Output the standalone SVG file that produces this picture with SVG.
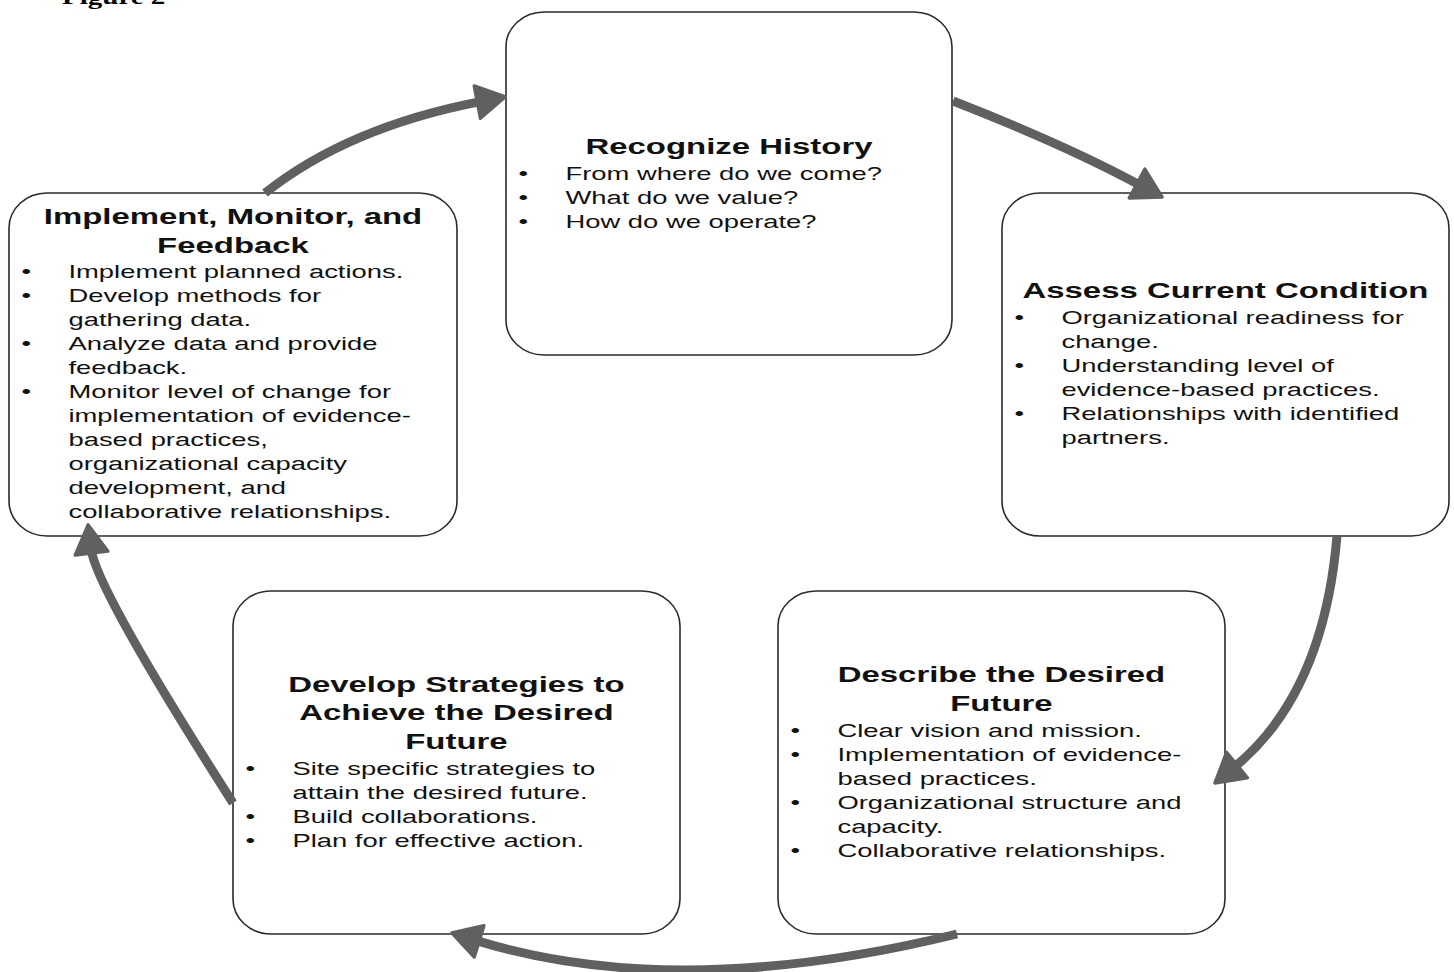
<svg xmlns="http://www.w3.org/2000/svg" width="1454" height="972" viewBox="0 0 1454 972">
<defs>
<style>
.box{fill:#fff;stroke:#2a2a2a;stroke-width:1.6}
.ttl{font-family:"Liberation Sans",Arial,sans-serif;font-weight:bold;font-size:22.7px;fill:#111;text-anchor:middle}
.bd{font-family:"Liberation Sans",Arial,sans-serif;font-size:18.9px;fill:#111}
.con{fill:none;stroke:#606060;stroke-width:9;stroke-linecap:butt}
.fig{font-family:"Liberation Serif","Times New Roman",serif;font-weight:bold;font-size:20px;fill:#000}
</style>
<marker id="ah" markerUnits="userSpaceOnUse" markerWidth="44" markerHeight="44" viewBox="-4 -20 36 40" refX="4" refY="0" orient="auto">
<path d="M0,-15 L26,0 L0,15 Z" fill="#606060" stroke="#606060" stroke-width="3" stroke-linejoin="round"/>
</marker>
</defs>
<rect width="1454" height="972" fill="#fff"/>
<g transform="scale(1.45 1)"><text class="fig" x="42.8" y="4">Figure 2</text></g>

<g id="node-recognize">
<rect class="box" x="506" y="12" width="446" height="343" rx="38" ry="35"/>
<g transform="translate(506 0) scale(1.45 1)">
<text class="ttl" x="153.8" y="154">Recognize History</text>
<text class="bd" x="8.6" y="180">•</text><text class="bd" x="41" y="180">From where do we come?</text>
<text class="bd" x="8.6" y="204">•</text><text class="bd" x="41" y="204">What do we value?</text>
<text class="bd" x="8.6" y="228">•</text><text class="bd" x="41" y="228">How do we operate?</text>
</g>
</g>

<g id="node-implement">
<rect class="box" x="9" y="193" width="448" height="343" rx="38" ry="35"/>
<g transform="translate(9 0) scale(1.45 1)">
<text class="ttl" x="154.5" y="224">Implement, Monitor, and</text>
<text class="ttl" x="154.5" y="253">Feedback</text>
<text class="bd" x="8.6" y="278">•</text><text class="bd" x="41" y="278">Implement planned actions.</text>
<text class="bd" x="8.6" y="302">•</text><text class="bd" x="41" y="302">Develop methods for</text>
<text class="bd" x="41" y="326">gathering data.</text>
<text class="bd" x="8.6" y="350">•</text><text class="bd" x="41" y="350">Analyze data and provide</text>
<text class="bd" x="41" y="374">feedback.</text>
<text class="bd" x="8.6" y="398">•</text><text class="bd" x="41" y="398">Monitor level of change for</text>
<text class="bd" x="41" y="422">implementation of evidence-</text>
<text class="bd" x="41" y="446">based practices,</text>
<text class="bd" x="41" y="470">organizational capacity</text>
<text class="bd" x="41" y="494">development, and</text>
<text class="bd" x="41" y="518">collaborative relationships.</text>
</g>
</g>

<g id="node-assess">
<rect class="box" x="1002" y="193" width="447" height="343" rx="38" ry="35"/>
<g transform="translate(1002 0) scale(1.45 1)">
<text class="ttl" x="154.1" y="298">Assess Current Condition</text>
<text class="bd" x="8.6" y="324">•</text><text class="bd" x="41" y="324">Organizational readiness for</text>
<text class="bd" x="41" y="348">change.</text>
<text class="bd" x="8.6" y="372">•</text><text class="bd" x="41" y="372">Understanding level of</text>
<text class="bd" x="41" y="396">evidence-based practices.</text>
<text class="bd" x="8.6" y="420">•</text><text class="bd" x="41" y="420">Relationships with identified</text>
<text class="bd" x="41" y="444">partners.</text>
</g>
</g>

<g id="node-describe">
<rect class="box" x="778" y="591" width="447" height="343" rx="38" ry="35"/>
<g transform="translate(778 0) scale(1.45 1)">
<text class="ttl" x="154.1" y="682">Describe the Desired</text>
<text class="ttl" x="154.1" y="711">Future</text>
<text class="bd" x="8.6" y="737">•</text><text class="bd" x="41" y="737">Clear vision and mission.</text>
<text class="bd" x="8.6" y="761">•</text><text class="bd" x="41" y="761">Implementation of evidence-</text>
<text class="bd" x="41" y="785">based practices.</text>
<text class="bd" x="8.6" y="809">•</text><text class="bd" x="41" y="809">Organizational structure and</text>
<text class="bd" x="41" y="833">capacity.</text>
<text class="bd" x="8.6" y="857">•</text><text class="bd" x="41" y="857">Collaborative relationships.</text>
</g>
</g>

<g id="node-develop">
<rect class="box" x="233" y="591" width="447" height="343" rx="38" ry="35"/>
<g transform="translate(233 0) scale(1.45 1)">
<text class="ttl" x="154.1" y="692">Develop Strategies to</text>
<text class="ttl" x="154.1" y="720">Achieve the Desired</text>
<text class="ttl" x="154.1" y="749">Future</text>
<text class="bd" x="8.6" y="775">•</text><text class="bd" x="41" y="775">Site specific strategies to</text>
<text class="bd" x="41" y="799">attain the desired future.</text>
<text class="bd" x="8.6" y="823">•</text><text class="bd" x="41" y="823">Build collaborations.</text>
<text class="bd" x="8.6" y="847">•</text><text class="bd" x="41" y="847">Plan for effective action.</text>
</g>
</g>

<g id="connectors">
<path class="con" marker-end="url(#ah)" d="M265,193 Q348,127 481.6,101.3"/>
<path class="con" marker-end="url(#ah)" d="M953,101 Q1066,145 1140.9,185.6"/>
<path class="con" marker-end="url(#ah)" d="M1337,536 Q1323.7,694.3 1233.6,767.8"/>
<path class="con" marker-end="url(#ah)" d="M957,934 Q677.4,1002.8 474.9,940.1"/>
<path class="con" marker-end="url(#ah)" d="M233,803 Q95.9,588.7 91,548.8"/>
</g>
</svg>
